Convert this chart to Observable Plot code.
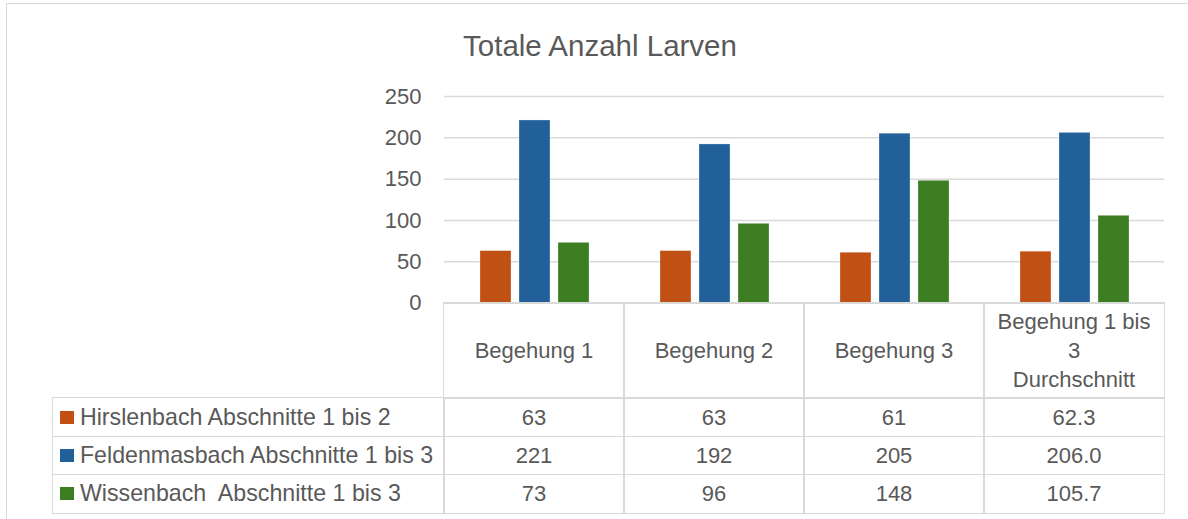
<!DOCTYPE html>
<html><head><meta charset="utf-8">
<script src="https://cdn.jsdelivr.net/npm/d3@7"></script>
<script src="https://cdn.jsdelivr.net/npm/@observablehq/plot@0.6"></script>
<style>
html,body{margin:0;padding:0;background:#fff;}
body{width:1188px;height:519px;overflow:hidden;position:relative;font-family:"Liberation Sans",Arial,sans-serif;color:#595959;}
#frame{position:absolute;left:5.5px;top:2.5px;width:1300px;height:700px;border:1.5px solid #d9d9d9;box-sizing:border-box;}
#title{position:absolute;left:0;width:1200px;text-align:center;top:30.7px;font-size:29.5px;line-height:1;color:#595959;}
#chart{position:absolute;left:0;top:80px;}
.cell{position:absolute;box-sizing:border-box;border:1.5px solid #d9d9d9;display:flex;align-items:center;justify-content:center;text-align:center;font-size:22px;color:#595959;line-height:29px;}
.lab{justify-content:flex-start;padding-left:7.5px;white-space:pre;font-size:23.2px;}
.sw{display:inline-block;width:14px;height:13px;margin-right:5.5px;flex:none;}
.hd{white-space:pre-line;}
</style></head><body>
<div id="frame"></div>
<div id="title">Totale Anzahl Larven</div>
<div id="chart"></div>
<div id="table"></div>
<script>
const categories = ["Begehung 1", "Begehung 2", "Begehung 3", "Begehung 1 bis 3 Durchschnitt"];
const headerLabels = ["Begehung 1", "Begehung 2", "Begehung 3", "Begehung 1 bis\n3\nDurchschnitt"];
const seriesNames = ["Hirslenbach Abschnitte 1 bis 2", "Feldenmasbach Abschnitte 1 bis 3", "Wissenbach  Abschnitte 1 bis 3"];
const hirslenbach = [63, 63, 61, 62.3];
const feldenmasbach = [221, 192, 205, 206.0];
const wissenbach = [73, 96, 148, 105.7];
const yTicks = [0, 50, 100, 150, 200, 250];
const colors = ["#C15015", "#22609A", "#3C7D22"];

const seriesValues = [hirslenbach, feldenmasbach, wissenbach];
const data = [];
seriesNames.forEach((s, i) => categories.forEach((c, j) => data.push({series: s, cat: c, value: seriesValues[i][j]})));

const chartTop = 80;
const chart = Plot.plot({
  width: 1188, height: 240,
  marginLeft: 443, marginRight: 23.3, marginTop: 16, marginBottom: 17.3,
  fx: {domain: categories, padding: 0, axis: null},
  x: {domain: seriesNames, paddingInner: 0.2175, paddingOuter: 0.865, axis: null},
  y: {domain: [0, 250], ticks: yTicks, tickSize: 0, tickPadding: 23, label: null},
  color: {domain: seriesNames, range: colors},
  style: {fontFamily: '"Liberation Sans", Arial, sans-serif', fontSize: "22px", color: "#595959", background: "transparent"},
  marks: [
    Plot.ruleY(yTicks, {stroke: "#d9d9d9", strokeWidth: 1.5}),
    Plot.barY(data, {fx: "cat", x: "series", y: "value", fill: "series", stroke: "#ffffff", strokeOpacity: 0.35, strokeWidth: 0.8})
  ]
});
document.getElementById("chart").appendChild(chart);

// data table below the plot, aligned to the facet bands
const fx = chart.scale("fx");
const ys = chart.scale("y");
const bw = fx.bandwidth;
const tableTop = chartTop + ys.apply(0);
const headerH = 95.3, rowH = 38.3;
const firstLeft = 52.7, firstRight = fx.apply(categories[0]);
const bwd = 1.5, hb = bwd / 2;
const fmt = (v, j) => j === categories.length - 1 ? v.toFixed(1) : String(v);
const tbl = document.getElementById("table");
function cell(left, top, w, h, cls, html) {
  const d = document.createElement("div");
  d.className = "cell " + cls;
  d.style.left = (left - hb) + "px"; d.style.top = (top - hb) + "px";
  d.style.width = (w + bwd) + "px"; d.style.height = (h + bwd) + "px";
  if (typeof html === "string") d.textContent = html; else d.appendChild(html);
  tbl.appendChild(d);
  return d;
}
categories.forEach((c, j) => {
  const inner = document.createElement("div");
  inner.className = "hd"; inner.textContent = headerLabels[j];
  cell(fx.apply(c), tableTop, bw, headerH, "", inner);
});
seriesNames.forEach((s, i) => {
  const top = tableTop + headerH + i * rowH;
  const frag = document.createElement("span");
  frag.style.display = "flex"; frag.style.alignItems = "center";
  const sw = document.createElement("span"); sw.className = "sw"; sw.style.background = colors[i];
  const t = document.createElement("span"); t.textContent = s;
  frag.appendChild(sw); frag.appendChild(t);
  cell(firstLeft, top, firstRight - firstLeft, rowH, "lab", frag);
  categories.forEach((c, j) => cell(fx.apply(c), top, bw, rowH, "", fmt(seriesValues[i][j], j)));
});
</script>
</body></html>
